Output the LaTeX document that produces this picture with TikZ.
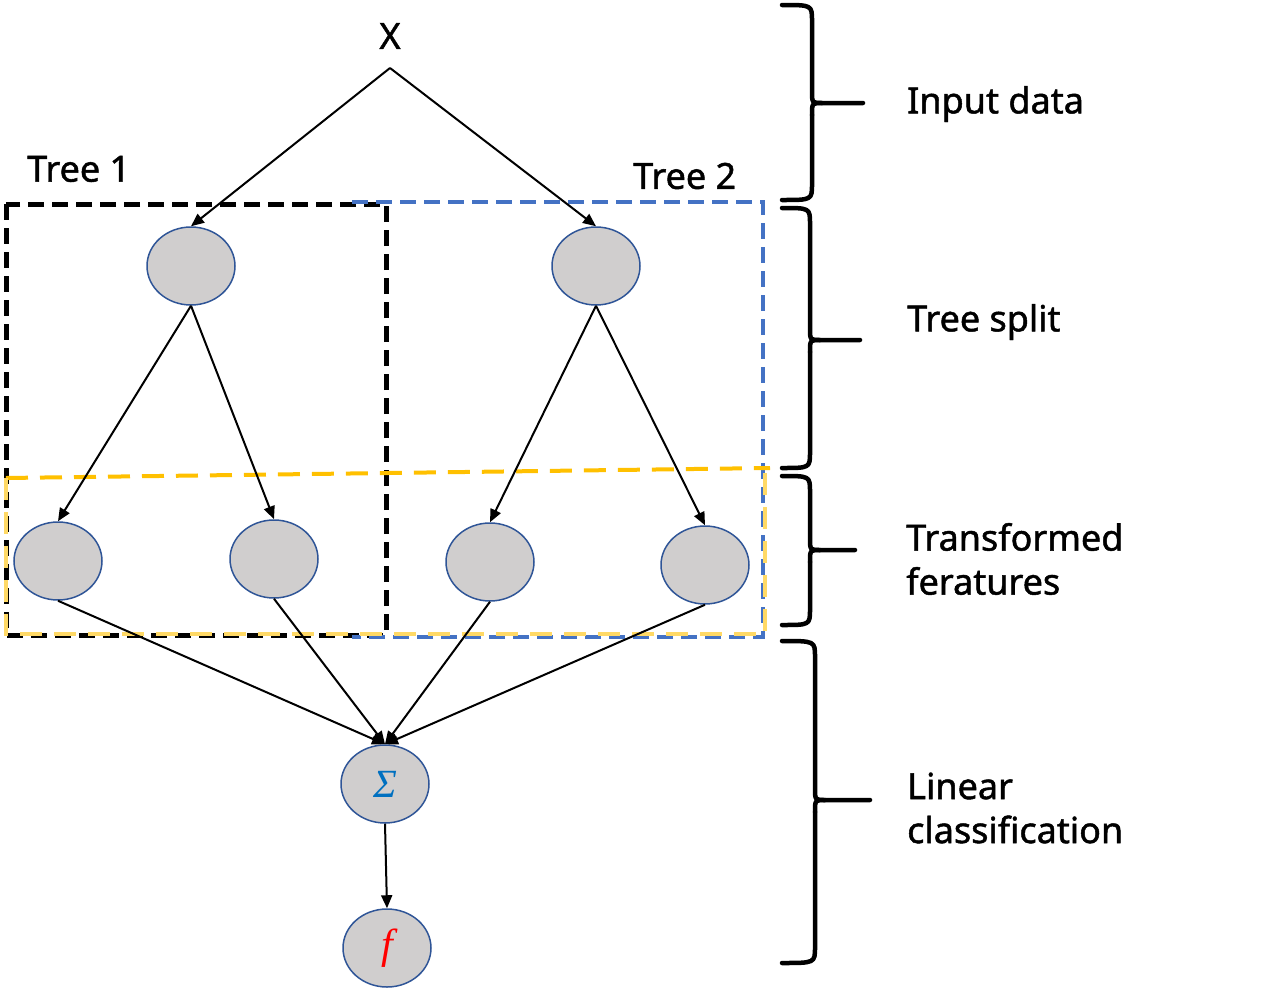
\documentclass[tikz,border=0pt]{standalone}
\usepackage{fontspec}
\setmainfont{Noto Sans}
\newfontfamily\lblfont{Noto Sans}[FakeBold=1.3]
\newfontfamily\symfont{Liberation Serif}
\usetikzlibrary{shapes.geometric,arrows.meta}
\definecolor{nodefill}{HTML}{D0CECE}
\definecolor{nodeborder}{HTML}{2F5597}
\definecolor{treeblue}{HTML}{4472C4}
\definecolor{yel}{HTML}{FFC000}
\definecolor{yellight}{HTML}{FFD966}
\definecolor{sigblue}{HTML}{0070C0}
\newcommand{\mybrace}[5]{%
  \draw[bracestyle] (782,#2) .. controls (#1,#2) .. (#1,{#2+16}) -- (#1,{#3-12}) .. controls (#1,#3) .. ({#1+10},#3) -- (#5,#3);
  \draw[bracestyle] (#1,{#3+12}) .. controls (#1,#3) .. ({#1+10},#3);
  \draw[bracestyle] (#1,{#3+12}) -- (#1,{#4-16}) .. controls (#1,#4) .. (782,#4);
}
\begin{document}
\begin{tikzpicture}[x=1pt,y=-1pt,
  nd/.style={ellipse, draw=nodeborder, line width=1.5pt, fill=nodefill, minimum width=88pt, minimum height=78pt, inner sep=0pt},
  arr/.style={line width=2pt, -{Triangle[length=13pt,width=11pt]}},
  lbl/.style={font=\lblfont\fontsize{36}{44}\selectfont, anchor=west, align=left, inner sep=0pt},
  bracestyle/.style={line width=4.5pt, line cap=round, line join=round},
  boxblack/.style={line width=5pt, dash pattern=on 16pt off 8pt},
  boxblue/.style={draw=treeblue, line width=3.5pt, dash pattern=on 16pt off 8pt},
  boxyel/.style={draw=yel, line width=4pt, dash pattern=on 22pt off 12pt},
  boxyell/.style={draw=yellight, line width=4pt, dash pattern=on 22pt off 12pt}]
\useasboundingbox (0,0) rectangle (1269,988);

% dashed boxes
\draw[boxblack] (6,204) rectangle (386,635);
\draw[boxblue] (352,202) -- (763,202) -- (763,637) -- (352,637);
\draw[boxyel] (6,478) -- (770,468);
\draw[boxyell] (6,478) -- (6,634) -- (765,634) -- (765,470);

% labels
\node[font=\lblfont\fontsize{36}{40}\selectfont, inner sep=0pt] (xlab) at (390,36) {X};
\coordinate (apex) at (390,68);
\node[lbl] (t1) at (27,169) {Tree 1};
\node[lbl] (t2) at (633,176) {Tree 2};

% nodes
\node[nd] (r1) at (191,266) {};
\node[nd] (r2) at (596,266) {};
\node[nd] (l1) at (58,561) {};
\node[nd] (l2) at (274,559) {};
\node[nd] (l3) at (490,562) {};
\node[nd] (l4) at (705,565) {};
\node[nd] (sig) at (385,784) {\symfont\itshape\fontsize{40}{40}\selectfont\color{sigblue}Σ};
\node[nd] (f) at (387,948) {\symfont\itshape\fontsize{42}{42}\selectfont\color{red}f};

% edges
\draw[arr] (apex) -- (r1.north);
\draw[arr] (apex) -- (r2.north);
\draw[arr] (r1.south) -- (l1.north);
\draw[arr] (r1.south) -- (l2.north);
\draw[arr] (r2.south) -- (l3.north);
\draw[arr] (r2.south) -- (l4.north);
\draw[arr] (l1.south) -- (sig.north);
\draw[arr] (l2.south) -- (sig.north);
\draw[arr] (l3.south) -- (sig.north);
\draw[arr] (l4.south) -- (sig.north);
\draw[arr] (sig.south) -- (f.north);

% braces
\mybrace{812}{5}{103}{200}{863}
\mybrace{810}{208}{340}{468}{860}
\mybrace{810}{476}{550}{625}{855}
\mybrace{815}{641}{800}{963}{870}

% brace labels
\node[lbl] (in) at (907,104) {Input data};
\node[lbl] (ts) at (907,322) {Tree split};
\node[lbl] (tf) at (906,559) {Transformed\\feratures};
\node[lbl] (lc) at (907,808) {Linear\\classification};
\end{tikzpicture}
\end{document}
